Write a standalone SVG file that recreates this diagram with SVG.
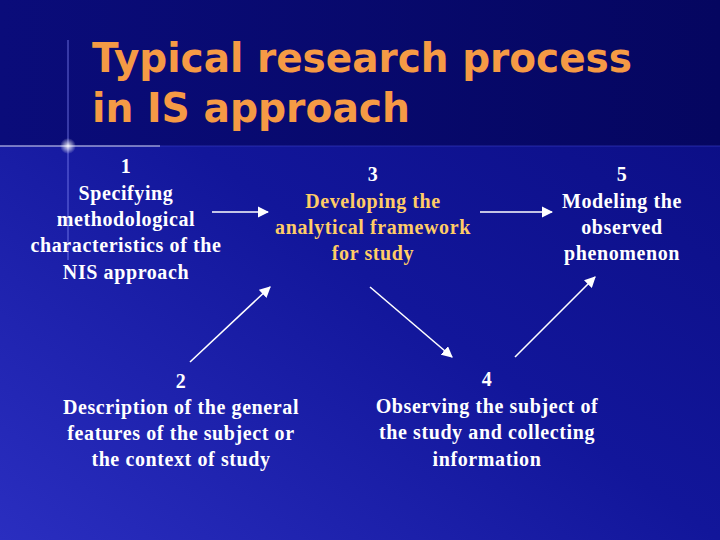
<svg xmlns="http://www.w3.org/2000/svg" width="720" height="540" viewBox="0 0 720 540">
<defs>
<linearGradient id="bg" x1="0" y1="1" x2="1" y2="0">
<stop offset="0" stop-color="#2a2ec0"/>
<stop offset="0.5" stop-color="#12169a"/>
<stop offset="1" stop-color="#0a0c80"/>
</linearGradient>
<linearGradient id="top" x1="0" y1="0" x2="1" y2="0">
<stop offset="0" stop-color="#0a0c7a"/>
<stop offset="1" stop-color="#050660"/>
</linearGradient>
<radialGradient id="glow" cx="0.5" cy="0.5" r="0.5">
<stop offset="0" stop-color="#ffffff" stop-opacity="0.9"/>
<stop offset="1" stop-color="#ffffff" stop-opacity="0"/>
</radialGradient>
<marker id="ah" viewBox="0 0 10 10" refX="9" refY="5" markerWidth="7" markerHeight="7" orient="auto">
<path d="M0,0 L10,5 L0,10 z" fill="#ffffff"/>
</marker>
</defs>
<style>
.t{font-family:"Liberation Serif",serif;font-size:20px;font-weight:bold;letter-spacing:0.6px;fill:#ffffff;text-anchor:middle}
.y{fill:#ffcc66}
.h{font-family:"DejaVu Sans","Liberation Sans",sans-serif;font-size:40px;font-weight:bold;fill:#f59a45}
.c line{stroke:#ffffff;stroke-width:1.6;marker-end:url(#ah)}
</style>
<rect width="720" height="540" fill="url(#bg)"/>
<rect width="720" height="146" fill="url(#top)"/>
<line x1="0" y1="146" x2="720" y2="146" stroke="#3a40c8" stroke-width="1" opacity="0.6"/>
<line x1="68" y1="40" x2="68" y2="260" stroke="#8a90ff" stroke-width="1" opacity="0.7"/>
<line x1="0" y1="146" x2="160" y2="146" stroke="#ffffff" stroke-width="1.2" opacity="0.8"/>
<circle cx="68" cy="146" r="8" fill="url(#glow)"/>
<text class="h" x="92" y="72" textLength="540" lengthAdjust="spacingAndGlyphs">Typical research process</text>
<text class="h" x="92" y="122" textLength="318" lengthAdjust="spacingAndGlyphs">in IS approach</text>
<g id="n1"><text class="t"><tspan x="126" y="173">1</tspan><tspan x="126" y="200">Specifying</tspan><tspan x="126" y="226">methodological</tspan><tspan x="126" y="252">characteristics of the</tspan><tspan x="126" y="279">NIS approach</tspan></text></g>
<g id="n3"><text class="t"><tspan x="373" y="181">3</tspan><tspan class="y" x="373" y="208">Developing the</tspan><tspan class="y" x="373" y="234">analytical framework</tspan><tspan class="y" x="373" y="260">for study</tspan></text></g>
<g id="n5"><text class="t"><tspan x="622" y="181">5</tspan><tspan x="622" y="208">Modeling the</tspan><tspan x="622" y="234">observed</tspan><tspan x="622" y="260">phenomenon</tspan></text></g>
<g id="n2"><text class="t"><tspan x="181" y="388">2</tspan><tspan x="181" y="414">Description of the general</tspan><tspan x="181" y="440">features of the subject or</tspan><tspan x="181" y="466">the context of study</tspan></text></g>
<g id="n4"><text class="t"><tspan x="487" y="386">4</tspan><tspan x="487" y="413">Observing the subject of</tspan><tspan x="487" y="439">the study and collecting</tspan><tspan x="487" y="466">information</tspan></text></g>
<g class="c" id="connectors">
<line x1="212" y1="212" x2="268" y2="212"/>
<line x1="480" y1="212" x2="552" y2="212"/>
<line x1="190" y1="362" x2="270" y2="287"/>
<line x1="370" y1="287" x2="452" y2="357"/>
<line x1="515" y1="357" x2="595" y2="277"/>
</g>
</svg>
